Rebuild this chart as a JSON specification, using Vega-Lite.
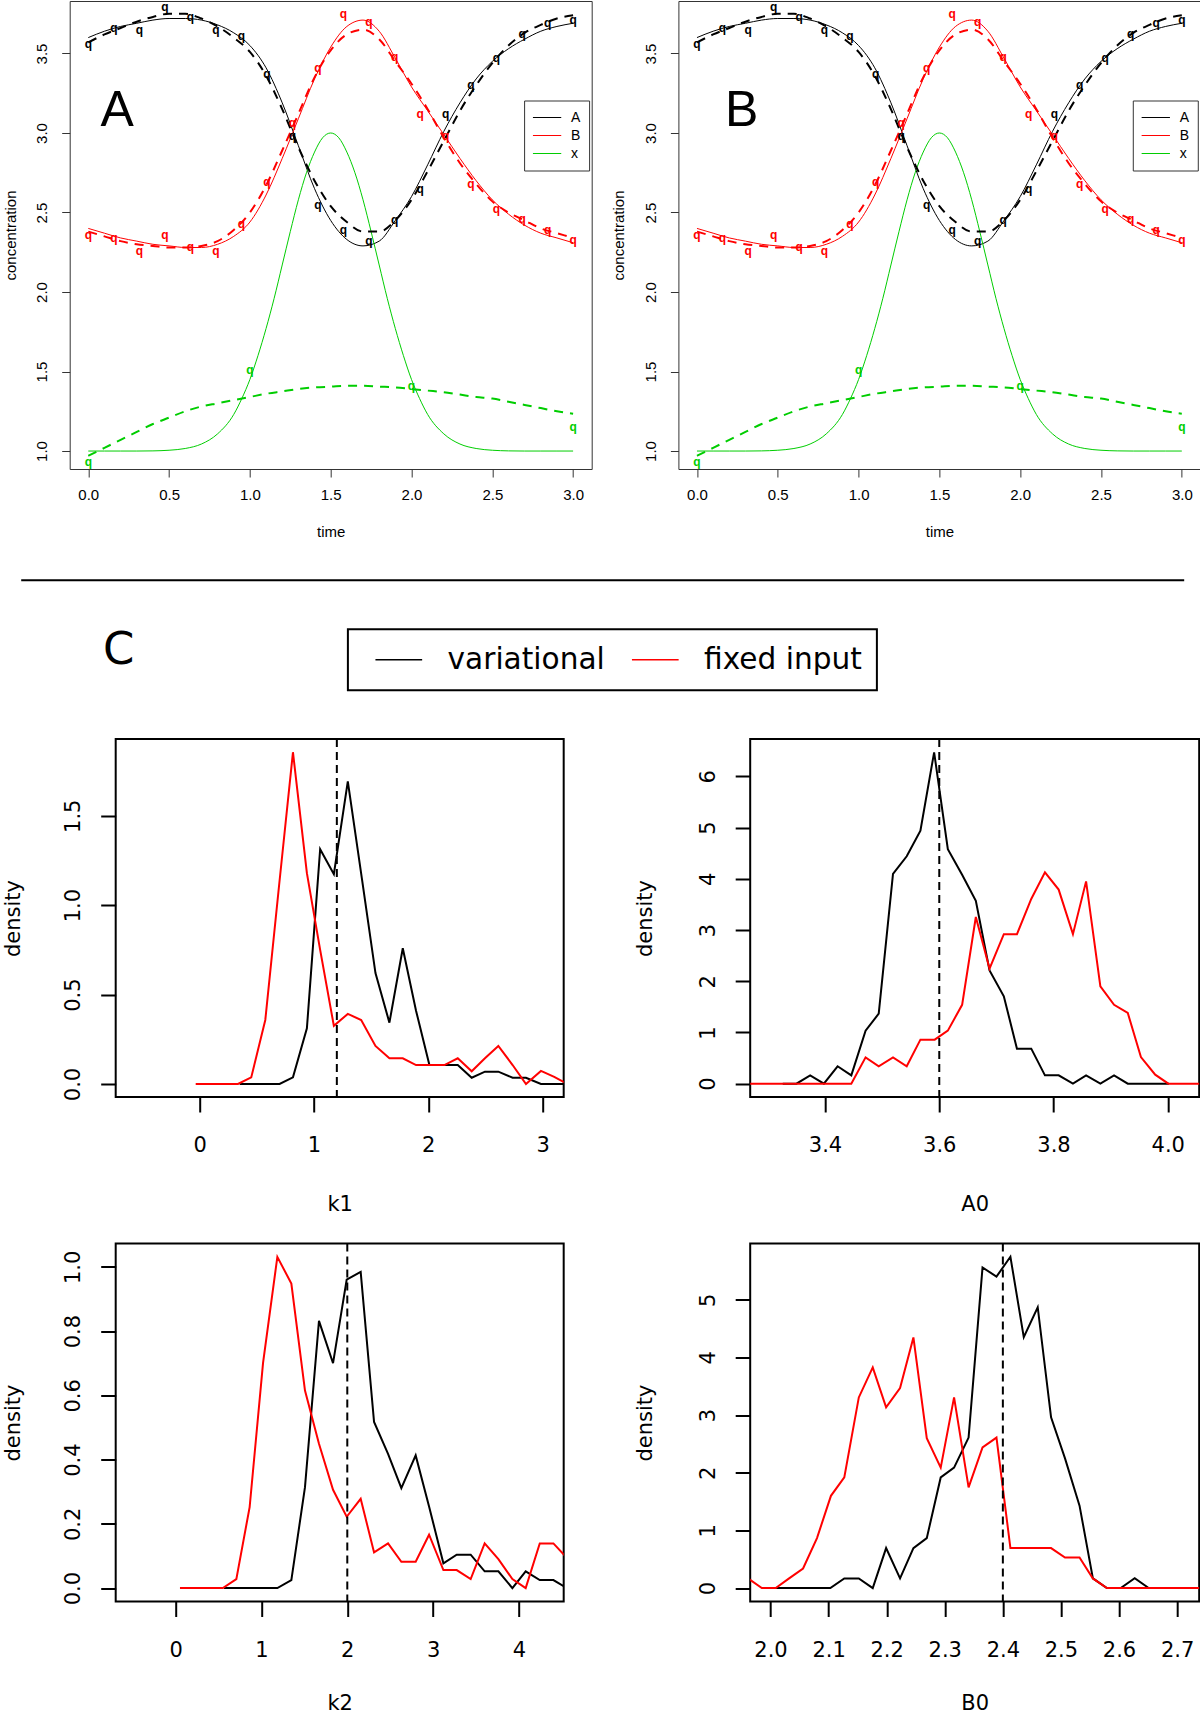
{
"$schema": "https://vega.github.io/schema/vega-lite/v6.json",
"padding": {"left": 0.7, "top": 0, "right": 0, "bottom": 0},
"background": "white",
"spacing": 25.5,
"resolve": {"scale": {"color": "independent"}, "legend": {"color": "independent", "stroke": "independent"}},
"config": {
  "font": "DejaVu Sans",
  "view": {"stroke": "black"},
  "axis": {"domain": false, "grid": false, "labelFlush": false, "labelOverlap": false, "labelColor": "black", "titleColor": "black", "tickColor": "black", "titleFontWeight": "normal", "labelBound": false},
  "title": {"fontWeight": "normal", "color": "black"}
},
"datasets": {
  "curves": [
    {"time":0,"value":3.6,"species":"A","kind":"true"},{"time":0.1,"value":3.64,"species":"A","kind":"true"},{"time":0.2,"value":3.67,"species":"A","kind":"true"},{"time":0.3,"value":3.69,"species":"A","kind":"true"},{"time":0.4,"value":3.71,"species":"A","kind":"true"},{"time":0.5,"value":3.72,"species":"A","kind":"true"},{"time":0.6,"value":3.72,"species":"A","kind":"true"},{"time":0.7,"value":3.71,"species":"A","kind":"true"},{"time":0.8,"value":3.68,"species":"A","kind":"true"},{"time":0.9,"value":3.63,"species":"A","kind":"true"},{"time":1,"value":3.55,"species":"A","kind":"true"},{"time":1.1,"value":3.41,"species":"A","kind":"true"},{"time":1.2,"value":3.19,"species":"A","kind":"true"},{"time":1.3,"value":2.92,"species":"A","kind":"true"},{"time":1.4,"value":2.65,"species":"A","kind":"true"},{"time":1.5,"value":2.45,"species":"A","kind":"true"},{"time":1.6,"value":2.33,"species":"A","kind":"true"},{"time":1.7,"value":2.29,"species":"A","kind":"true"},{"time":1.8,"value":2.32,"species":"A","kind":"true"},{"time":1.9,"value":2.45,"species":"A","kind":"true"},{"time":2,"value":2.6,"species":"A","kind":"true"},{"time":2.1,"value":2.8,"species":"A","kind":"true"},{"time":2.2,"value":3.01,"species":"A","kind":"true"},{"time":2.3,"value":3.19,"species":"A","kind":"true"},{"time":2.4,"value":3.34,"species":"A","kind":"true"},{"time":2.5,"value":3.45,"species":"A","kind":"true"},{"time":2.6,"value":3.53,"species":"A","kind":"true"},{"time":2.7,"value":3.59,"species":"A","kind":"true"},{"time":2.8,"value":3.64,"species":"A","kind":"true"},{"time":2.9,"value":3.67,"species":"A","kind":"true"},{"time":3,"value":3.69,"species":"A","kind":"true"},
    {"time":0,"value":2.4,"species":"B","kind":"true"},{"time":0.1,"value":2.37,"species":"B","kind":"true"},{"time":0.2,"value":2.34,"species":"B","kind":"true"},{"time":0.3,"value":2.32,"species":"B","kind":"true"},{"time":0.4,"value":2.3,"species":"B","kind":"true"},{"time":0.5,"value":2.29,"species":"B","kind":"true"},{"time":0.6,"value":2.28,"species":"B","kind":"true"},{"time":0.7,"value":2.28,"species":"B","kind":"true"},{"time":0.8,"value":2.3,"species":"B","kind":"true"},{"time":0.9,"value":2.35,"species":"B","kind":"true"},{"time":1,"value":2.44,"species":"B","kind":"true"},{"time":1.1,"value":2.61,"species":"B","kind":"true"},{"time":1.2,"value":2.84,"species":"B","kind":"true"},{"time":1.3,"value":3.09,"species":"B","kind":"true"},{"time":1.4,"value":3.34,"species":"B","kind":"true"},{"time":1.5,"value":3.54,"species":"B","kind":"true"},{"time":1.6,"value":3.67,"species":"B","kind":"true"},{"time":1.7,"value":3.71,"species":"B","kind":"true"},{"time":1.8,"value":3.64,"species":"B","kind":"true"},{"time":1.9,"value":3.47,"species":"B","kind":"true"},{"time":2,"value":3.29,"species":"B","kind":"true"},{"time":2.1,"value":3.14,"species":"B","kind":"true"},{"time":2.2,"value":2.99,"species":"B","kind":"true"},{"time":2.3,"value":2.84,"species":"B","kind":"true"},{"time":2.4,"value":2.7,"species":"B","kind":"true"},{"time":2.5,"value":2.58,"species":"B","kind":"true"},{"time":2.6,"value":2.49,"species":"B","kind":"true"},{"time":2.7,"value":2.42,"species":"B","kind":"true"},{"time":2.8,"value":2.37,"species":"B","kind":"true"},{"time":2.9,"value":2.34,"species":"B","kind":"true"},{"time":3,"value":2.31,"species":"B","kind":"true"},
    {"time":0,"value":1,"species":"x","kind":"true"},{"time":0.1,"value":1,"species":"x","kind":"true"},{"time":0.2,"value":1,"species":"x","kind":"true"},{"time":0.3,"value":1,"species":"x","kind":"true"},{"time":0.4,"value":1.001,"species":"x","kind":"true"},{"time":0.5,"value":1.005,"species":"x","kind":"true"},{"time":0.6,"value":1.016,"species":"x","kind":"true"},{"time":0.7,"value":1.044,"species":"x","kind":"true"},{"time":0.8,"value":1.108,"species":"x","kind":"true"},{"time":0.9,"value":1.23,"species":"x","kind":"true"},{"time":0.95,"value":1.33,"species":"x","kind":"true"},{"time":1,"value":1.45,"species":"x","kind":"true"},{"time":1.05,"value":1.6,"species":"x","kind":"true"},{"time":1.1,"value":1.77,"species":"x","kind":"true"},{"time":1.15,"value":1.96,"species":"x","kind":"true"},{"time":1.2,"value":2.17,"species":"x","kind":"true"},{"time":1.25,"value":2.38,"species":"x","kind":"true"},{"time":1.3,"value":2.58,"species":"x","kind":"true"},{"time":1.35,"value":2.75,"species":"x","kind":"true"},{"time":1.4,"value":2.88,"species":"x","kind":"true"},{"time":1.45,"value":2.97,"species":"x","kind":"true"},{"time":1.5,"value":3,"species":"x","kind":"true"},{"time":1.55,"value":2.97,"species":"x","kind":"true"},{"time":1.6,"value":2.88,"species":"x","kind":"true"},{"time":1.65,"value":2.75,"species":"x","kind":"true"},{"time":1.7,"value":2.58,"species":"x","kind":"true"},{"time":1.75,"value":2.38,"species":"x","kind":"true"},{"time":1.8,"value":2.17,"species":"x","kind":"true"},{"time":1.85,"value":1.96,"species":"x","kind":"true"},{"time":1.9,"value":1.77,"species":"x","kind":"true"},{"time":1.95,"value":1.6,"species":"x","kind":"true"},{"time":2,"value":1.45,"species":"x","kind":"true"},{"time":2.05,"value":1.33,"species":"x","kind":"true"},{"time":2.1,"value":1.23,"species":"x","kind":"true"},{"time":2.2,"value":1.108,"species":"x","kind":"true"},{"time":2.3,"value":1.044,"species":"x","kind":"true"},{"time":2.4,"value":1.016,"species":"x","kind":"true"},{"time":2.5,"value":1.005,"species":"x","kind":"true"},{"time":2.6,"value":1.001,"species":"x","kind":"true"},{"time":2.7,"value":1,"species":"x","kind":"true"},{"time":2.8,"value":1,"species":"x","kind":"true"},{"time":2.9,"value":1,"species":"x","kind":"true"},{"time":3,"value":1,"species":"x","kind":"true"},
    {"time":0,"value":3.57,"species":"A","kind":"fit"},{"time":0.1,"value":3.62,"species":"A","kind":"fit"},{"time":0.2,"value":3.66,"species":"A","kind":"fit"},{"time":0.3,"value":3.7,"species":"A","kind":"fit"},{"time":0.4,"value":3.73,"species":"A","kind":"fit"},{"time":0.5,"value":3.75,"species":"A","kind":"fit"},{"time":0.6,"value":3.75,"species":"A","kind":"fit"},{"time":0.7,"value":3.72,"species":"A","kind":"fit"},{"time":0.8,"value":3.67,"species":"A","kind":"fit"},{"time":0.9,"value":3.6,"species":"A","kind":"fit"},{"time":1,"value":3.51,"species":"A","kind":"fit"},{"time":1.1,"value":3.36,"species":"A","kind":"fit"},{"time":1.2,"value":3.15,"species":"A","kind":"fit"},{"time":1.3,"value":2.91,"species":"A","kind":"fit"},{"time":1.4,"value":2.7,"species":"A","kind":"fit"},{"time":1.5,"value":2.54,"species":"A","kind":"fit"},{"time":1.6,"value":2.44,"species":"A","kind":"fit"},{"time":1.7,"value":2.38,"species":"A","kind":"fit"},{"time":1.8,"value":2.38,"species":"A","kind":"fit"},{"time":1.9,"value":2.45,"species":"A","kind":"fit"},{"time":2,"value":2.58,"species":"A","kind":"fit"},{"time":2.1,"value":2.76,"species":"A","kind":"fit"},{"time":2.2,"value":2.95,"species":"A","kind":"fit"},{"time":2.3,"value":3.14,"species":"A","kind":"fit"},{"time":2.4,"value":3.3,"species":"A","kind":"fit"},{"time":2.5,"value":3.44,"species":"A","kind":"fit"},{"time":2.6,"value":3.55,"species":"A","kind":"fit"},{"time":2.7,"value":3.63,"species":"A","kind":"fit"},{"time":2.8,"value":3.68,"species":"A","kind":"fit"},{"time":2.9,"value":3.72,"species":"A","kind":"fit"},{"time":3,"value":3.74,"species":"A","kind":"fit"},
    {"time":0,"value":2.38,"species":"B","kind":"fit"},{"time":0.1,"value":2.35,"species":"B","kind":"fit"},{"time":0.2,"value":2.32,"species":"B","kind":"fit"},{"time":0.3,"value":2.3,"species":"B","kind":"fit"},{"time":0.4,"value":2.29,"species":"B","kind":"fit"},{"time":0.5,"value":2.28,"species":"B","kind":"fit"},{"time":0.6,"value":2.28,"species":"B","kind":"fit"},{"time":0.7,"value":2.29,"species":"B","kind":"fit"},{"time":0.8,"value":2.32,"species":"B","kind":"fit"},{"time":0.9,"value":2.39,"species":"B","kind":"fit"},{"time":1,"value":2.5,"species":"B","kind":"fit"},{"time":1.1,"value":2.67,"species":"B","kind":"fit"},{"time":1.2,"value":2.89,"species":"B","kind":"fit"},{"time":1.3,"value":3.12,"species":"B","kind":"fit"},{"time":1.4,"value":3.35,"species":"B","kind":"fit"},{"time":1.5,"value":3.52,"species":"B","kind":"fit"},{"time":1.6,"value":3.62,"species":"B","kind":"fit"},{"time":1.7,"value":3.65,"species":"B","kind":"fit"},{"time":1.8,"value":3.59,"species":"B","kind":"fit"},{"time":1.9,"value":3.45,"species":"B","kind":"fit"},{"time":2,"value":3.31,"species":"B","kind":"fit"},{"time":2.1,"value":3.15,"species":"B","kind":"fit"},{"time":2.2,"value":2.97,"species":"B","kind":"fit"},{"time":2.3,"value":2.81,"species":"B","kind":"fit"},{"time":2.4,"value":2.68,"species":"B","kind":"fit"},{"time":2.5,"value":2.57,"species":"B","kind":"fit"},{"time":2.6,"value":2.5,"species":"B","kind":"fit"},{"time":2.7,"value":2.45,"species":"B","kind":"fit"},{"time":2.8,"value":2.4,"species":"B","kind":"fit"},{"time":2.9,"value":2.37,"species":"B","kind":"fit"},{"time":3,"value":2.34,"species":"B","kind":"fit"},
    {"time":0,"value":0.97,"species":"x","kind":"fit"},{"time":0.1,"value":1.02,"species":"x","kind":"fit"},{"time":0.2,"value":1.07,"species":"x","kind":"fit"},{"time":0.3,"value":1.12,"species":"x","kind":"fit"},{"time":0.4,"value":1.17,"species":"x","kind":"fit"},{"time":0.5,"value":1.21,"species":"x","kind":"fit"},{"time":0.6,"value":1.25,"species":"x","kind":"fit"},{"time":0.7,"value":1.28,"species":"x","kind":"fit"},{"time":0.8,"value":1.3,"species":"x","kind":"fit"},{"time":0.9,"value":1.32,"species":"x","kind":"fit"},{"time":1,"value":1.34,"species":"x","kind":"fit"},{"time":1.1,"value":1.36,"species":"x","kind":"fit"},{"time":1.2,"value":1.375,"species":"x","kind":"fit"},{"time":1.3,"value":1.39,"species":"x","kind":"fit"},{"time":1.4,"value":1.4,"species":"x","kind":"fit"},{"time":1.5,"value":1.405,"species":"x","kind":"fit"},{"time":1.6,"value":1.41,"species":"x","kind":"fit"},{"time":1.7,"value":1.41,"species":"x","kind":"fit"},{"time":1.8,"value":1.405,"species":"x","kind":"fit"},{"time":1.9,"value":1.4,"species":"x","kind":"fit"},{"time":2,"value":1.39,"species":"x","kind":"fit"},{"time":2.1,"value":1.38,"species":"x","kind":"fit"},{"time":2.2,"value":1.37,"species":"x","kind":"fit"},{"time":2.3,"value":1.355,"species":"x","kind":"fit"},{"time":2.4,"value":1.34,"species":"x","kind":"fit"},{"time":2.5,"value":1.33,"species":"x","kind":"fit"},{"time":2.6,"value":1.31,"species":"x","kind":"fit"},{"time":2.7,"value":1.29,"species":"x","kind":"fit"},{"time":2.8,"value":1.27,"species":"x","kind":"fit"},{"time":2.9,"value":1.25,"species":"x","kind":"fit"},{"time":3,"value":1.235,"species":"x","kind":"fit"}
  ],
  "obs": [
    {"time":0,"value":3.56,"species":"A"},{"time":0.158,"value":3.66,"species":"A"},{"time":0.316,"value":3.65,"species":"A"},{"time":0.474,"value":3.79,"species":"A"},{"time":0.632,"value":3.73,"species":"A"},{"time":0.789,"value":3.65,"species":"A"},{"time":0.947,"value":3.61,"species":"A"},{"time":1.105,"value":3.37,"species":"A"},{"time":1.263,"value":2.98,"species":"A"},{"time":1.421,"value":2.55,"species":"A"},{"time":1.579,"value":2.39,"species":"A"},{"time":1.737,"value":2.32,"species":"A"},{"time":1.895,"value":2.45,"species":"A"},{"time":2.053,"value":2.65,"species":"A"},{"time":2.211,"value":3.12,"species":"A"},{"time":2.368,"value":3.3,"species":"A"},{"time":2.526,"value":3.47,"species":"A"},{"time":2.684,"value":3.62,"species":"A"},{"time":2.842,"value":3.69,"species":"A"},{"time":3,"value":3.71,"species":"A"},
    {"time":0,"value":2.36,"species":"B"},{"time":0.158,"value":2.34,"species":"B"},{"time":0.316,"value":2.26,"species":"B"},{"time":0.474,"value":2.36,"species":"B"},{"time":0.632,"value":2.28,"species":"B"},{"time":0.789,"value":2.26,"species":"B"},{"time":0.947,"value":2.43,"species":"B"},{"time":1.105,"value":2.69,"species":"B"},{"time":1.263,"value":3.06,"species":"B"},{"time":1.421,"value":3.41,"species":"B"},{"time":1.579,"value":3.75,"species":"B"},{"time":1.737,"value":3.7,"species":"B"},{"time":1.895,"value":3.48,"species":"B"},{"time":2.053,"value":3.12,"species":"B"},{"time":2.211,"value":2.98,"species":"B"},{"time":2.368,"value":2.68,"species":"B"},{"time":2.526,"value":2.52,"species":"B"},{"time":2.684,"value":2.46,"species":"B"},{"time":2.842,"value":2.39,"species":"B"},{"time":3,"value":2.33,"species":"B"},
    {"time":0,"value":0.93,"species":"x"},{"time":1,"value":1.51,"species":"x"},{"time":2,"value":1.41,"species":"x"},{"time":3,"value":1.15,"species":"x"}
  ],
  "methods": [{"method":"variational"},{"method":"fixed input"}],
  "truth": [{"param":"k1","x":1.2},{"param":"A0","x":3.6},{"param":"k2","x":2.0},{"param":"B0","x":2.4}],
  "dens": [
    {"param":"k1","method":"variational","x":0.35,"d":0},{"param":"k1","method":"variational","x":0.466,"d":0},{"param":"k1","method":"variational","x":0.583,"d":0},{"param":"k1","method":"variational","x":0.699,"d":0},{"param":"k1","method":"variational","x":0.816,"d":0.037},{"param":"k1","method":"variational","x":0.938,"d":0.311},{"param":"k1","method":"variational","x":1.054,"d":1.313},{"param":"k1","method":"variational","x":1.174,"d":1.173},{"param":"k1","method":"variational","x":1.296,"d":1.692},{"param":"k1","method":"variational","x":1.419,"d":1.15},{"param":"k1","method":"variational","x":1.538,"d":0.62},{"param":"k1","method":"variational","x":1.66,"d":0.343},{"param":"k1","method":"variational","x":1.777,"d":0.759},{"param":"k1","method":"variational","x":1.893,"d":0.41},{"param":"k1","method":"variational","x":2.01,"d":0.106},{"param":"k1","method":"variational","x":2.141,"d":0.106},{"param":"k1","method":"variational","x":2.258,"d":0.106},{"param":"k1","method":"variational","x":2.38,"d":0.035},{"param":"k1","method":"variational","x":2.496,"d":0.069},{"param":"k1","method":"variational","x":2.613,"d":0.069},{"param":"k1","method":"variational","x":2.738,"d":0.035},{"param":"k1","method":"variational","x":2.855,"d":0.035},{"param":"k1","method":"variational","x":2.986,"d":0},{"param":"k1","method":"variational","x":3.102,"d":0},{"param":"k1","method":"variational","x":3.22,"d":0},
    {"param":"k1","method":"fixed input","x":-0.035,"d":0},{"param":"k1","method":"fixed input","x":0.087,"d":0},{"param":"k1","method":"fixed input","x":0.21,"d":0},{"param":"k1","method":"fixed input","x":0.335,"d":0},{"param":"k1","method":"fixed input","x":0.451,"d":0.037},{"param":"k1","method":"fixed input","x":0.574,"d":0.358},{"param":"k1","method":"fixed input","x":0.693,"d":1.1},{"param":"k1","method":"fixed input","x":0.816,"d":1.855},{"param":"k1","method":"fixed input","x":0.938,"d":1.179},{"param":"k1","method":"fixed input","x":1.054,"d":0.75},{"param":"k1","method":"fixed input","x":1.174,"d":0.325},{"param":"k1","method":"fixed input","x":1.296,"d":0.392},{"param":"k1","method":"fixed input","x":1.413,"d":0.358},{"param":"k1","method":"fixed input","x":1.538,"d":0.213},{"param":"k1","method":"fixed input","x":1.66,"d":0.144},{"param":"k1","method":"fixed input","x":1.777,"d":0.144},{"param":"k1","method":"fixed input","x":1.893,"d":0.106},{"param":"k1","method":"fixed input","x":2.01,"d":0.106},{"param":"k1","method":"fixed input","x":2.141,"d":0.106},{"param":"k1","method":"fixed input","x":2.258,"d":0.144},{"param":"k1","method":"fixed input","x":2.38,"d":0.071},{"param":"k1","method":"fixed input","x":2.496,"d":0.144},{"param":"k1","method":"fixed input","x":2.613,"d":0.213},{"param":"k1","method":"fixed input","x":2.738,"d":0.106},{"param":"k1","method":"fixed input","x":2.855,"d":0},{"param":"k1","method":"fixed input","x":2.986,"d":0.073},{"param":"k1","method":"fixed input","x":3.102,"d":0.04},{"param":"k1","method":"fixed input","x":3.22,"d":0},
    {"param":"A0","method":"variational","x":3.326,"d":0},{"param":"A0","method":"variational","x":3.35,"d":0},{"param":"A0","method":"variational","x":3.374,"d":0.163},{"param":"A0","method":"variational","x":3.398,"d":0},{"param":"A0","method":"variational","x":3.422,"d":0.34},{"param":"A0","method":"variational","x":3.446,"d":0.163},{"param":"A0","method":"variational","x":3.471,"d":1.035},{"param":"A0","method":"variational","x":3.494,"d":1.367},{"param":"A0","method":"variational","x":3.519,"d":4.095},{"param":"A0","method":"variational","x":3.543,"d":4.44},{"param":"A0","method":"variational","x":3.567,"d":4.94},{"param":"A0","method":"variational","x":3.591,"d":6.47},{"param":"A0","method":"variational","x":3.615,"d":4.58},{"param":"A0","method":"variational","x":3.64,"d":4.08},{"param":"A0","method":"variational","x":3.664,"d":3.57},{"param":"A0","method":"variational","x":3.688,"d":2.21},{"param":"A0","method":"variational","x":3.713,"d":1.706},{"param":"A0","method":"variational","x":3.736,"d":0.684},{"param":"A0","method":"variational","x":3.761,"d":0.684},{"param":"A0","method":"variational","x":3.785,"d":0.163},{"param":"A0","method":"variational","x":3.809,"d":0.163},{"param":"A0","method":"variational","x":3.834,"d":0},{"param":"A0","method":"variational","x":3.857,"d":0.163},{"param":"A0","method":"variational","x":3.882,"d":0},{"param":"A0","method":"variational","x":3.906,"d":0.163},{"param":"A0","method":"variational","x":3.93,"d":0},{"param":"A0","method":"variational","x":3.955,"d":0},{"param":"A0","method":"variational","x":3.978,"d":0},{"param":"A0","method":"variational","x":4.002,"d":0},
    {"param":"A0","method":"fixed input","x":3.255,"d":0},{"param":"A0","method":"fixed input","x":3.278,"d":0},{"param":"A0","method":"fixed input","x":3.302,"d":0},{"param":"A0","method":"fixed input","x":3.326,"d":0},{"param":"A0","method":"fixed input","x":3.35,"d":0},{"param":"A0","method":"fixed input","x":3.374,"d":0},{"param":"A0","method":"fixed input","x":3.398,"d":0},{"param":"A0","method":"fixed input","x":3.422,"d":0},{"param":"A0","method":"fixed input","x":3.446,"d":0},{"param":"A0","method":"fixed input","x":3.471,"d":0.514},{"param":"A0","method":"fixed input","x":3.494,"d":0.34},{"param":"A0","method":"fixed input","x":3.519,"d":0.514},{"param":"A0","method":"fixed input","x":3.543,"d":0.34},{"param":"A0","method":"fixed input","x":3.567,"d":0.86},{"param":"A0","method":"fixed input","x":3.592,"d":0.86},{"param":"A0","method":"fixed input","x":3.615,"d":1.035},{"param":"A0","method":"fixed input","x":3.64,"d":1.54},{"param":"A0","method":"fixed input","x":3.664,"d":3.255},{"param":"A0","method":"fixed input","x":3.688,"d":2.246},{"param":"A0","method":"fixed input","x":3.713,"d":2.92},{"param":"A0","method":"fixed input","x":3.736,"d":2.92},{"param":"A0","method":"fixed input","x":3.761,"d":3.607},{"param":"A0","method":"fixed input","x":3.785,"d":4.128},{"param":"A0","method":"fixed input","x":3.809,"d":3.79},{"param":"A0","method":"fixed input","x":3.834,"d":2.92},{"param":"A0","method":"fixed input","x":3.857,"d":3.95},{"param":"A0","method":"fixed input","x":3.882,"d":1.9},{"param":"A0","method":"fixed input","x":3.906,"d":1.54},{"param":"A0","method":"fixed input","x":3.93,"d":1.38},{"param":"A0","method":"fixed input","x":3.953,"d":0.52},{"param":"A0","method":"fixed input","x":3.978,"d":0.176},{"param":"A0","method":"fixed input","x":4.001,"d":0},{"param":"A0","method":"fixed input","x":4.025,"d":0},{"param":"A0","method":"fixed input","x":4.05,"d":0},{"param":"A0","method":"fixed input","x":4.075,"d":0},
    {"param":"k2","method":"variational","x":0.563,"d":0},{"param":"k2","method":"variational","x":0.72,"d":0},{"param":"k2","method":"variational","x":0.876,"d":0},{"param":"k2","method":"variational","x":1.03,"d":0},{"param":"k2","method":"variational","x":1.185,"d":0},{"param":"k2","method":"variational","x":1.348,"d":0.025},{"param":"k2","method":"variational","x":1.507,"d":0.314},{"param":"k2","method":"variational","x":1.67,"d":0.832},{"param":"k2","method":"variational","x":1.834,"d":0.7},{"param":"k2","method":"variational","x":1.993,"d":0.96},{"param":"k2","method":"variational","x":2.156,"d":0.984},{"param":"k2","method":"variational","x":2.312,"d":0.517},{"param":"k2","method":"variational","x":2.475,"d":0.418},{"param":"k2","method":"variational","x":2.63,"d":0.311},{"param":"k2","method":"variational","x":2.797,"d":0.413},{"param":"k2","method":"variational","x":2.953,"d":0.254},{"param":"k2","method":"variational","x":3.12,"d":0.077},{"param":"k2","method":"variational","x":3.275,"d":0.104},{"param":"k2","method":"variational","x":3.438,"d":0.104},{"param":"k2","method":"variational","x":3.601,"d":0.052},{"param":"k2","method":"variational","x":3.761,"d":0.052},{"param":"k2","method":"variational","x":3.924,"d":0},{"param":"k2","method":"variational","x":4.079,"d":0.052},{"param":"k2","method":"variational","x":4.243,"d":0.025},{"param":"k2","method":"variational","x":4.402,"d":0.025},{"param":"k2","method":"variational","x":4.56,"d":0},
    {"param":"k2","method":"fixed input","x":0.05,"d":0},{"param":"k2","method":"fixed input","x":0.214,"d":0},{"param":"k2","method":"fixed input","x":0.38,"d":0},{"param":"k2","method":"fixed input","x":0.55,"d":0},{"param":"k2","method":"fixed input","x":0.707,"d":0.028},{"param":"k2","method":"fixed input","x":0.862,"d":0.252},{"param":"k2","method":"fixed input","x":1.018,"d":0.7},{"param":"k2","method":"fixed input","x":1.185,"d":1.031},{"param":"k2","method":"fixed input","x":1.348,"d":0.948},{"param":"k2","method":"fixed input","x":1.507,"d":0.615},{"param":"k2","method":"fixed input","x":1.67,"d":0.449},{"param":"k2","method":"fixed input","x":1.834,"d":0.306},{"param":"k2","method":"fixed input","x":1.993,"d":0.222},{"param":"k2","method":"fixed input","x":2.156,"d":0.278},{"param":"k2","method":"fixed input","x":2.312,"d":0.111},{"param":"k2","method":"fixed input","x":2.475,"d":0.139},{"param":"k2","method":"fixed input","x":2.63,"d":0.082},{"param":"k2","method":"fixed input","x":2.797,"d":0.082},{"param":"k2","method":"fixed input","x":2.953,"d":0.166},{"param":"k2","method":"fixed input","x":3.12,"d":0.056},{"param":"k2","method":"fixed input","x":3.275,"d":0.056},{"param":"k2","method":"fixed input","x":3.438,"d":0.028},{"param":"k2","method":"fixed input","x":3.601,"d":0.139},{"param":"k2","method":"fixed input","x":3.761,"d":0.09},{"param":"k2","method":"fixed input","x":3.924,"d":0.028},{"param":"k2","method":"fixed input","x":4.079,"d":0},{"param":"k2","method":"fixed input","x":4.243,"d":0.139},{"param":"k2","method":"fixed input","x":4.402,"d":0.139},{"param":"k2","method":"fixed input","x":4.56,"d":0.094},
    {"param":"B0","method":"variational","x":2.006,"d":0},{"param":"B0","method":"variational","x":2.03,"d":0},{"param":"B0","method":"variational","x":2.055,"d":0},{"param":"B0","method":"variational","x":2.079,"d":0},{"param":"B0","method":"variational","x":2.103,"d":0},{"param":"B0","method":"variational","x":2.127,"d":0.168},{"param":"B0","method":"variational","x":2.152,"d":0.168},{"param":"B0","method":"variational","x":2.176,"d":0},{"param":"B0","method":"variational","x":2.199,"d":0.694},{"param":"B0","method":"variational","x":2.223,"d":0.168},{"param":"B0","method":"variational","x":2.246,"d":0.694},{"param":"B0","method":"variational","x":2.269,"d":0.867},{"param":"B0","method":"variational","x":2.293,"d":1.919},{"param":"B0","method":"variational","x":2.316,"d":2.09},{"param":"B0","method":"variational","x":2.341,"d":2.61},{"param":"B0","method":"variational","x":2.365,"d":5.56},{"param":"B0","method":"variational","x":2.389,"d":5.4},{"param":"B0","method":"variational","x":2.413,"d":5.745},{"param":"B0","method":"variational","x":2.436,"d":4.35},{"param":"B0","method":"variational","x":2.46,"d":4.87},{"param":"B0","method":"variational","x":2.483,"d":2.96},{"param":"B0","method":"variational","x":2.507,"d":2.25},{"param":"B0","method":"variational","x":2.532,"d":1.43},{"param":"B0","method":"variational","x":2.555,"d":0.17},{"param":"B0","method":"variational","x":2.579,"d":0},{"param":"B0","method":"variational","x":2.603,"d":0},{"param":"B0","method":"variational","x":2.627,"d":0.17},{"param":"B0","method":"variational","x":2.651,"d":0},{"param":"B0","method":"variational","x":2.675,"d":0},{"param":"B0","method":"variational","x":2.699,"d":0},{"param":"B0","method":"variational","x":2.723,"d":0},
    {"param":"B0","method":"fixed input","x":1.961,"d":0.17},{"param":"B0","method":"fixed input","x":1.985,"d":0},{"param":"B0","method":"fixed input","x":2.009,"d":0},{"param":"B0","method":"fixed input","x":2.032,"d":0.168},{"param":"B0","method":"fixed input","x":2.056,"d":0.34},{"param":"B0","method":"fixed input","x":2.08,"d":0.867},{"param":"B0","method":"fixed input","x":2.104,"d":1.6},{"param":"B0","method":"fixed input","x":2.127,"d":1.92},{"param":"B0","method":"fixed input","x":2.152,"d":3.306},{"param":"B0","method":"fixed input","x":2.176,"d":3.827},{"param":"B0","method":"fixed input","x":2.199,"d":3.133},{"param":"B0","method":"fixed input","x":2.223,"d":3.468},{"param":"B0","method":"fixed input","x":2.246,"d":4.347},{"param":"B0","method":"fixed input","x":2.269,"d":2.6},{"param":"B0","method":"fixed input","x":2.293,"d":2.09},{"param":"B0","method":"fixed input","x":2.316,"d":3.306},{"param":"B0","method":"fixed input","x":2.341,"d":1.746},{"param":"B0","method":"fixed input","x":2.365,"d":2.44},{"param":"B0","method":"fixed input","x":2.389,"d":2.61},{"param":"B0","method":"fixed input","x":2.413,"d":0.694},{"param":"B0","method":"fixed input","x":2.436,"d":0.694},{"param":"B0","method":"fixed input","x":2.46,"d":0.694},{"param":"B0","method":"fixed input","x":2.483,"d":0.694},{"param":"B0","method":"fixed input","x":2.507,"d":0.53},{"param":"B0","method":"fixed input","x":2.532,"d":0.53},{"param":"B0","method":"fixed input","x":2.555,"d":0.168},{"param":"B0","method":"fixed input","x":2.579,"d":0},{"param":"B0","method":"fixed input","x":2.603,"d":0},{"param":"B0","method":"fixed input","x":2.627,"d":0},{"param":"B0","method":"fixed input","x":2.651,"d":0},{"param":"B0","method":"fixed input","x":2.675,"d":0},{"param":"B0","method":"fixed input","x":2.699,"d":0},{"param":"B0","method":"fixed input","x":2.723,"d":0},{"param":"B0","method":"fixed input","x":2.747,"d":0}
  ]
},
"vconcat": [
  {
    "hconcat": [
      {"width": 1, "height": 10, "view": {"stroke": null}, "data": {"values": []}, "mark": "point"},
      {
        "hconcat": [
          {
            "width": 522, "height": 468,
            "view": {"stroke": "#333333", "strokeWidth": 1},
            "title": {"text": "A", "anchor": "start", "frame": "group", "orient": "top", "offset": -174.5, "dx": 30.7, "font": "Liberation Sans", "fontSize": 50, "fontWeight": "normal", "baseline": "alphabetic", "color": "black"},
            "encoding": {
              "x": {"field": "time", "type": "quantitative", "scale": {"domain": [-0.115, 3.115], "nice": false, "zero": false},
                    "axis": {"values": [0,0.5,1,1.5,2,2.5,3], "format": ".1f", "title": "time", "titleY": 67, "titleBaseline": "alphabetic", "titleFont": "Liberation Sans", "titleFontSize": 15, "labelFont": "Liberation Sans", "labelFontSize": 15, "labelPadding": 10, "tickSize": 8, "tickWidth": 1, "tickColor": "#333333"}},
              "y": {"field": "value", "type": "quantitative", "scale": {"domain": [0.887, 3.83], "nice": false, "zero": false},
                    "axis": {"values": [1,1.5,2,2.5,3,3.5], "format": ".1f", "title": "concentration", "titleX": -54.6, "titleY": 234, "titleAngle": -90, "titleAlign": "center", "titleBaseline": "alphabetic", "titleFont": "Liberation Sans", "titleFontSize": 15, "labelFont": "Liberation Sans", "labelFontSize": 15, "labelAngle": -90, "labelAlign": "center", "labelBaseline": "alphabetic", "labelPadding": 15.3, "tickSize": 8, "tickWidth": 1, "tickColor": "#333333"}}
            },
            "layer": [
              {"data": {"name": "curves"}, "transform": [{"filter": "datum.kind === 'true'"}],
               "mark": {"type": "line", "strokeWidth": 1, "interpolate": "monotone", "clip": true},
               "encoding": {"stroke": {"field": "species", "type": "nominal", "scale": {"domain": ["A","B","x"], "range": ["black","#ff0000","#00cd00"]},
                 "legend": {"orient": "none", "legendX": 454.4, "legendY": 99.5, "direction": "vertical", "title": null, "strokeColor": "#333333", "fillColor": "white", "padding": 8, "symbolType": "stroke", "symbolSize": 801, "symbolStrokeWidth": 1, "clipHeight": 18, "rowPadding": 0, "labelOffset": 9, "labelFont": "Liberation Sans", "labelFontSize": 14, "labelColor": "black"}}}},
              {"data": {"name": "curves"}, "transform": [{"filter": "datum.kind === 'fit'"}],
               "mark": {"type": "line", "strokeWidth": 2, "strokeDash": [9,7], "interpolate": "monotone", "clip": true},
               "encoding": {"color": {"field": "species", "type": "nominal", "scale": {"domain": ["A","B","x"], "range": ["black","#ff0000","#00cd00"]}, "legend": null}}},
              {"data": {"name": "obs"},
               "mark": {"type": "text", "text": "q", "font": "Liberation Sans", "fontSize": 12, "fontWeight": "bold", "align": "center", "baseline": "middle"},
               "encoding": {"fill": {"field": "species", "type": "nominal", "scale": {"domain": ["A","B","x"], "range": ["black","#ff0000","#00cd00"]}, "legend": null}}}
            ]
          },
          {
            "width": 522, "height": 468,
            "view": {"stroke": "#333333", "strokeWidth": 1},
            "title": {"text": "B", "anchor": "start", "frame": "group", "orient": "top", "offset": -174.5, "dx": 46.7, "font": "Liberation Sans", "fontSize": 50, "fontWeight": "normal", "baseline": "alphabetic", "color": "black"},
            "encoding": {
              "x": {"field": "time", "type": "quantitative", "scale": {"domain": [-0.115, 3.115], "nice": false, "zero": false},
                    "axis": {"values": [0,0.5,1,1.5,2,2.5,3], "format": ".1f", "title": "time", "titleY": 67, "titleBaseline": "alphabetic", "titleFont": "Liberation Sans", "titleFontSize": 15, "labelFont": "Liberation Sans", "labelFontSize": 15, "labelPadding": 10, "tickSize": 8, "tickWidth": 1, "tickColor": "#333333"}},
              "y": {"field": "value", "type": "quantitative", "scale": {"domain": [0.887, 3.83], "nice": false, "zero": false},
                    "axis": {"values": [1,1.5,2,2.5,3,3.5], "format": ".1f", "title": "concentration", "titleX": -54.6, "titleY": 234, "titleAngle": -90, "titleAlign": "center", "titleBaseline": "alphabetic", "titleFont": "Liberation Sans", "titleFontSize": 15, "labelFont": "Liberation Sans", "labelFontSize": 15, "labelAngle": -90, "labelAlign": "center", "labelBaseline": "alphabetic", "labelPadding": 15.3, "tickSize": 8, "tickWidth": 1, "tickColor": "#333333"}}
            },
            "layer": [
              {"data": {"name": "curves"}, "transform": [{"filter": "datum.kind === 'true'"}],
               "mark": {"type": "line", "strokeWidth": 1, "interpolate": "monotone", "clip": true},
               "encoding": {"stroke": {"field": "species", "type": "nominal", "scale": {"domain": ["A","B","x"], "range": ["black","#ff0000","#00cd00"]},
                 "legend": {"orient": "none", "legendX": 454.4, "legendY": 99.5, "direction": "vertical", "title": null, "strokeColor": "#333333", "fillColor": "white", "padding": 8, "symbolType": "stroke", "symbolSize": 801, "symbolStrokeWidth": 1, "clipHeight": 18, "rowPadding": 0, "labelOffset": 9, "labelFont": "Liberation Sans", "labelFontSize": 14, "labelColor": "black"}}}},
              {"data": {"name": "curves"}, "transform": [{"filter": "datum.kind === 'fit'"}],
               "mark": {"type": "line", "strokeWidth": 2, "strokeDash": [9,7], "interpolate": "monotone", "clip": true},
               "encoding": {"color": {"field": "species", "type": "nominal", "scale": {"domain": ["A","B","x"], "range": ["black","#ff0000","#00cd00"]}, "legend": null}}},
              {"data": {"name": "obs"},
               "mark": {"type": "text", "text": "q", "font": "Liberation Sans", "fontSize": 12, "fontWeight": "bold", "align": "center", "baseline": "middle"},
               "encoding": {"fill": {"field": "species", "type": "nominal", "scale": {"domain": ["A","B","x"], "range": ["black","#ff0000","#00cd00"]}, "legend": null}}}
            ]
          }
        ],
        "spacing": 17.7,
        "resolve": {"legend": {"stroke": "independent"}}
      }
    ],
    "spacing": 0,
    "resolve": {"legend": {"stroke": "independent"}}
  },
  {
    "hconcat": [
      {"width": 20, "height": 143, "view": {"stroke": null}, "data": {"values": []}, "mark": "point"},
      {
        "width": 1163, "height": 143,
        "view": {"stroke": null},
        "title": {"text": "C", "anchor": "start", "frame": "group", "orient": "top", "offset": -143, "dx": 82.4, "font": "DejaVu Sans", "fontSize": 45, "fontWeight": "normal", "baseline": "alphabetic", "color": "black"},
        "data": {"name": "methods"},
        "mark": {"type": "line", "strokeWidth": 1.5},
        "encoding": {
          "x": {"field": "method", "type": "nominal", "sort": null, "axis": {"orient": "top", "offset": -11.2, "domain": true, "domainColor": "black", "domainWidth": 2, "labels": false, "ticks": false, "title": null, "grid": false}},
          "y": {"datum": 0, "type": "quantitative", "axis": null},
          "color": {"field": "method", "type": "nominal", "scale": {"domain": ["variational","fixed input"], "range": ["black","#ff0000"]},
            "legend": {"orient": "none", "legendX": 327.2, "legendY": 60.8, "direction": "horizontal", "title": null, "strokeColor": "black", "fillColor": "white", "padding": 15, "symbolType": "stroke", "symbolSize": 2181, "symbolStrokeWidth": 1.5, "symbolOffset": 11.4, "clipHeight": 31, "labelOffset": 24.3, "columnPadding": 14.5, "labelFont": "DejaVu Sans", "labelFontSize": 29.6, "labelColor": "black", "labelLimit": 500,
              "encode": {"legend": {"update": {"strokeWidth": {"value": 2}}}}}}
        }
      }
    ],
    "spacing": 0,
    "resolve": {"legend": {"color": "independent"}}
  },
  {
    "hconcat": [
      {"width": 1, "height": 10, "view": {"stroke": null}, "data": {"values": []}, "mark": "point"},
      {
        "hconcat": [
          {
            "width": 448, "height": 358,
            "view": {"stroke": "black", "strokeWidth": 2},
            "encoding": {"x": {"field": "x", "type": "quantitative", "scale": {"domain": [-0.735, 3.185], "nice": false, "zero": false},
              "axis": {"values": [0,1,2,3], "title": "k1", "titleY": 113.5, "titleBaseline": "alphabetic", "titleFont": "DejaVu Sans", "titleFontSize": 21, "labelFont": "DejaVu Sans", "labelFontSize": 21, "labelPadding": 23, "tickSize": 15, "tickWidth": 2}}},
            "layer": [
              {"data": {"name": "dens"}, "transform": [{"filter": "datum.param === 'k1'"}],
               "mark": {"type": "line", "strokeWidth": 2, "clip": true},
               "encoding": {
                 "y": {"field": "d", "type": "quantitative", "scale": {"domain": [-0.0727, 1.929], "nice": false, "zero": false},
                   "axis": {"values": [0,0.5,1,1.5], "format": ".1f", "title": "density", "titleX": -96, "titleY": 179, "titleAngle": -90, "titleAlign": "center", "titleBaseline": "alphabetic", "titleFont": "DejaVu Sans", "titleFontSize": 21, "labelFont": "DejaVu Sans", "labelFontSize": 21, "labelAngle": -90, "labelAlign": "center", "labelBaseline": "alphabetic", "labelPadding": 20.7, "tickSize": 15, "tickWidth": 2}},
                 "color": {"field": "method", "type": "nominal", "scale": {"domain": ["variational","fixed input"], "range": ["black","#ff0000"]}, "legend": null}}},
              {"data": {"name": "truth"}, "transform": [{"filter": "datum.param === 'k1'"}],
               "mark": {"type": "rule", "strokeDash": [8,5], "strokeWidth": 2, "color": "black"}, "encoding": {}}
            ]
          },
          {
            "width": 449, "height": 358,
            "view": {"stroke": "black", "strokeWidth": 2},
            "encoding": {"x": {"field": "x", "type": "quantitative", "scale": {"domain": [3.269, 4.055], "nice": false, "zero": false},
              "axis": {"values": [3.4,3.6,3.8,4.0], "format": ".1f", "title": "A0", "titleY": 113.5, "titleBaseline": "alphabetic", "titleFont": "DejaVu Sans", "titleFontSize": 21, "labelFont": "DejaVu Sans", "labelFontSize": 21, "labelPadding": 23, "tickSize": 15, "tickWidth": 2}}},
            "layer": [
              {"data": {"name": "dens"}, "transform": [{"filter": "datum.param === 'A0'"}],
               "mark": {"type": "line", "strokeWidth": 2, "clip": true},
               "encoding": {
                 "y": {"field": "d", "type": "quantitative", "scale": {"domain": [-0.26, 6.73], "nice": false, "zero": false},
                   "axis": {"values": [0,1,2,3,4,5,6], "title": "density", "titleX": -98.8, "titleY": 179, "titleAngle": -90, "titleAlign": "center", "titleBaseline": "alphabetic", "titleFont": "DejaVu Sans", "titleFontSize": 21, "labelFont": "DejaVu Sans", "labelFontSize": 21, "labelAngle": -90, "labelAlign": "center", "labelBaseline": "alphabetic", "labelPadding": 20.7, "tickSize": 15, "tickWidth": 2}},
                 "color": {"field": "method", "type": "nominal", "scale": {"domain": ["variational","fixed input"], "range": ["black","#ff0000"]}, "legend": null}}},
              {"data": {"name": "truth"}, "transform": [{"filter": "datum.param === 'A0'"}],
               "mark": {"type": "rule", "strokeDash": [8,5], "strokeWidth": 2, "color": "black"}, "encoding": {}}
            ]
          }
        ],
        "spacing": 68.5
      }
    ],
    "spacing": 0
  },
  {
    "hconcat": [
      {"width": 1, "height": 10, "view": {"stroke": null}, "data": {"values": []}, "mark": "point"},
      {
        "hconcat": [
          {
            "width": 448, "height": 358,
            "view": {"stroke": "black", "strokeWidth": 2},
            "encoding": {"x": {"field": "x", "type": "quantitative", "scale": {"domain": [-0.699, 4.522], "nice": false, "zero": false},
              "axis": {"values": [0,1,2,3,4], "title": "k2", "titleY": 108, "titleBaseline": "alphabetic", "titleFont": "DejaVu Sans", "titleFontSize": 21, "labelFont": "DejaVu Sans", "labelFontSize": 21, "labelPadding": 23, "tickSize": 15, "tickWidth": 2}}},
            "layer": [
              {"data": {"name": "dens"}, "transform": [{"filter": "datum.param === 'k2'"}],
               "mark": {"type": "line", "strokeWidth": 2, "clip": true},
               "encoding": {
                 "y": {"field": "d", "type": "quantitative", "scale": {"domain": [-0.0418, 1.0727], "nice": false, "zero": false},
                   "axis": {"values": [0,0.2,0.4,0.6,0.8,1.0], "format": ".1f", "title": "density", "titleX": -96, "titleY": 179, "titleAngle": -90, "titleAlign": "center", "titleBaseline": "alphabetic", "titleFont": "DejaVu Sans", "titleFontSize": 21, "labelFont": "DejaVu Sans", "labelFontSize": 21, "labelAngle": -90, "labelAlign": "center", "labelBaseline": "alphabetic", "labelPadding": 20.7, "tickSize": 15, "tickWidth": 2}},
                 "color": {"field": "method", "type": "nominal", "scale": {"domain": ["variational","fixed input"], "range": ["black","#ff0000"]}, "legend": null}}},
              {"data": {"name": "truth"}, "transform": [{"filter": "datum.param === 'k2'"}],
               "mark": {"type": "rule", "strokeDash": [8,5], "strokeWidth": 2, "color": "black"}, "encoding": {}}
            ]
          },
          {
            "width": 449, "height": 358,
            "view": {"stroke": "black", "strokeWidth": 2},
            "encoding": {"x": {"field": "x", "type": "quantitative", "scale": {"domain": [1.965, 2.738], "nice": false, "zero": false},
              "axis": {"values": [2.0,2.1,2.2,2.3,2.4,2.5,2.6,2.7], "format": ".1f", "title": "B0", "titleY": 108, "titleBaseline": "alphabetic", "titleFont": "DejaVu Sans", "titleFontSize": 21, "labelFont": "DejaVu Sans", "labelFontSize": 21, "labelPadding": 23, "tickSize": 15, "tickWidth": 2}}},
            "layer": [
              {"data": {"name": "dens"}, "transform": [{"filter": "datum.param === 'B0'"}],
               "mark": {"type": "line", "strokeWidth": 2, "clip": true},
               "encoding": {
                 "y": {"field": "d", "type": "quantitative", "scale": {"domain": [-0.232, 5.975], "nice": false, "zero": false},
                   "axis": {"values": [0,1,2,3,4,5], "title": "density", "titleX": -98.8, "titleY": 179, "titleAngle": -90, "titleAlign": "center", "titleBaseline": "alphabetic", "titleFont": "DejaVu Sans", "titleFontSize": 21, "labelFont": "DejaVu Sans", "labelFontSize": 21, "labelAngle": -90, "labelAlign": "center", "labelBaseline": "alphabetic", "labelPadding": 20.7, "tickSize": 15, "tickWidth": 2}},
                 "color": {"field": "method", "type": "nominal", "scale": {"domain": ["variational","fixed input"], "range": ["black","#ff0000"]}, "legend": null}}},
              {"data": {"name": "truth"}, "transform": [{"filter": "datum.param === 'B0'"}],
               "mark": {"type": "rule", "strokeDash": [8,5], "strokeWidth": 2, "color": "black"}, "encoding": {}}
            ]
          }
        ],
        "spacing": 68.5
      }
    ],
    "spacing": 0
  }
]
}
